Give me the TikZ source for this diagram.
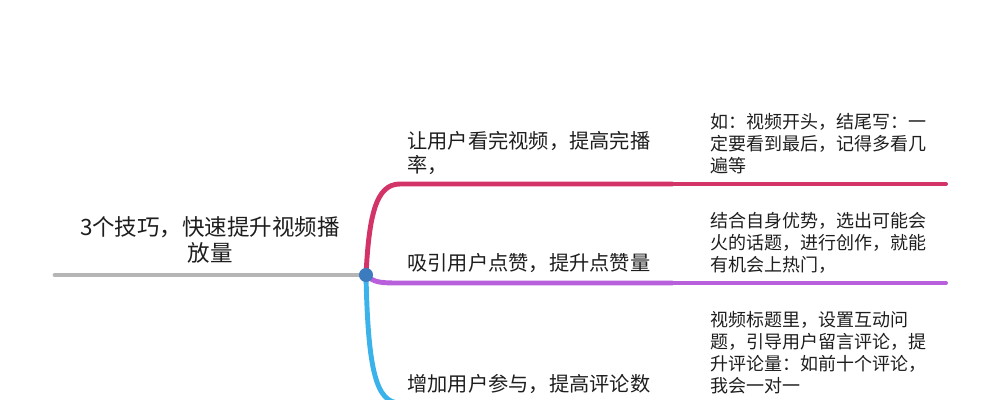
\documentclass[tikz,border=0pt]{standalone}
\usepackage{fontspec}
\setmainfont{Noto Sans CJK SC}
\definecolor{trunkgrey}{HTML}{B5B5B5}
\definecolor{hubblue}{HTML}{3D7BBF}
\definecolor{rose}{HTML}{D23467}
\definecolor{violet}{HTML}{B85FDC}
\definecolor{sky}{HTML}{3BB3EA}
\definecolor{ink}{HTML}{1E1E1E}
\tikzset{
  trunk/.style={line width=3.5pt, trunkgrey, line cap=round},
  branch/.style={line width=3.5pt, line cap=round},
  twig/.style={line width=2.8pt, line cap=round},
  hubdot/.style={circle, fill=hubblue, inner sep=0pt, minimum size=10pt},
  title/.style={text=ink, align=center, font=\fontsize{16pt}{18.5pt}\selectfont},
  topic/.style={text=ink, align=left, anchor=west, inner sep=0pt, font=\fontsize{14.4pt}{16.7pt}\selectfont},
  note/.style={text=ink, align=left, anchor=west, inner sep=0pt, font=\fontsize{12.8pt}{15.6pt}\selectfont}
}
\begin{document}
\begin{tikzpicture}[x=0.025cm, y=-0.025cm]
    \useasboundingbox (0,0) rectangle (1000,400);
    \clip (0,0) rectangle (1000,400);

    % Root
    \node[title] (root) at (210,240) {3个技巧，快速提升视频播\\放量};
    \coordinate (start) at (55,275);
    \coordinate (hub) at (366,275);
    \draw[trunk] (start) -- (hub);

    % Branch ends
    \foreach \n/\y in {1/184, 2/283, 3/403} {
        \coordinate (k\n) at (400,\y);
        \coordinate (m\n) at (672,\y);
        \coordinate (e\n) at (946,\y);
    }

    % Branches
    \draw[branch, rose] (hub) .. controls (369,215) and (376,184) .. (k1) -- (m1);
    \draw[twig, rose] (m1) -- (e1);
    \draw[branch, violet] (hub) .. controls (374,283) and (382,283) .. (k2) -- (m2);
    \draw[twig, violet] (m2) -- (e2);
    \draw[branch, sky] (hub) .. controls (368,370) and (376,403) .. (k3) -- (m3);
    \draw[twig, sky] (m3) -- (e3);
    \node[hubdot] (dot) at (hub) {};

    % Topics
    \node[topic] (t1) at (407,153) {让用户看完视频，提高完播\\率，};
    \node[topic] (t2) at (407,263) {吸引用户点赞，提升点赞量};
    \node[topic] (t3) at (407,384) {增加用户参与，提高评论数};

    % Notes
    \node[note] (n1) at (710,144) {如：视频开头，结尾写：一\\定要看到最后，记得多看几\\遍等};
    \node[note] (n2) at (710,243) {结合自身优势，选出可能会\\火的话题，进行创作，就能\\有机会上热门，};
    \node[note] (n3) at (710,353) {视频标题里，设置互动问\\题，引导用户留言评论，提\\升评论量：如前十个评论，\\我会一对一};
\end{tikzpicture}
\end{document}
